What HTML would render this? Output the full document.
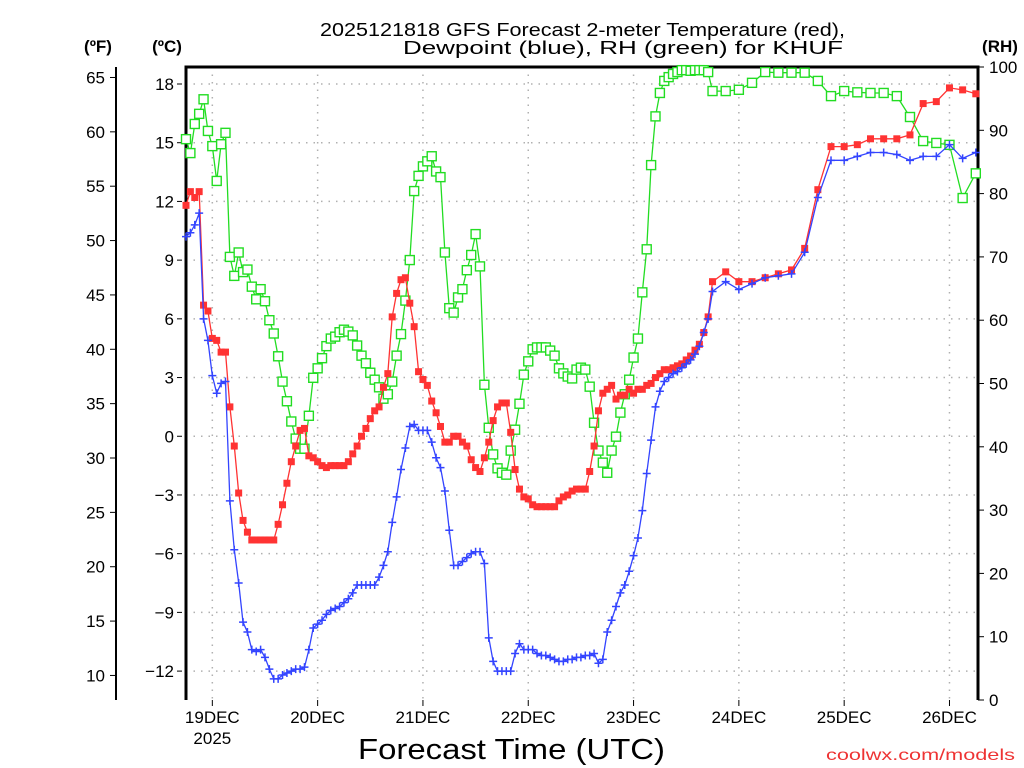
<!DOCTYPE html>
<html><head><meta charset="utf-8"><style>
body{margin:0;background:#fff;}
svg{display:block;font-family:"Liberation Sans",sans-serif;}
</style></head><body>
<svg id="chart" width="1024" height="768" viewBox="0 0 1024 768">
<g id="grid"></g>
<g id="axes"></g>
<g id="series"></g>
<text x="320" y="36" font-size="18" textLength="525" lengthAdjust="spacingAndGlyphs">2025121818 GFS Forecast 2-meter Temperature (red),</text>
<text x="403" y="54" font-size="18" textLength="440" lengthAdjust="spacingAndGlyphs">Dewpoint (blue), RH (green) for KHUF</text>
<text x="98" y="52" text-anchor="middle" font-size="17" font-weight="bold">(ºF)</text>
<text x="167" y="52" text-anchor="middle" font-size="17" font-weight="bold">(ºC)</text>
<text x="1000" y="52" text-anchor="middle" font-size="17" font-weight="bold">(RH)</text>
<text x="358" y="759" font-size="29" textLength="307" lengthAdjust="spacingAndGlyphs">Forecast Time (UTC)</text>
<text x="826" y="760" font-size="16" fill="#ee3333" textLength="189" lengthAdjust="spacingAndGlyphs">coolwx.com/models</text>
</svg>
<script>
const tempHourly=[11.8,12.5,12.2,12.5,6.7,6.4,5.0,4.9,4.3,4.3,1.5,-0.5,-2.9,-4.3,-4.9,-5.3,-5.3,-5.3,-5.3,-5.3,-5.3,-4.5,-3.5,-2.4,-1.3,-0.5,0.3,0.4,-1.0,-1.1,-1.3,-1.5,-1.6,-1.5,-1.5,-1.5,-1.5,-1.3,-0.9,-0.5,0,0.4,0.9,1.3,1.5,2.5,3.2,6.1,7.3,8.0,8.1,6.8,5.6,3.3,2.9,2.6,1.8,1.2,0.5,-0.3,-0.3,0,0,-0.3,-0.5,-1.2,-1.6,-1.8,-1.1,-0.3,0.8,1.5,1.7,1.7,0.2,-1.7,-2.7,-3.1,-3.2,-3.5,-3.6,-3.6,-3.6,-3.6,-3.6,-3.3,-3.1,-3.0,-2.8,-2.7,-2.7,-2.7,-1.8,-0.5,1.3,2.2,2.4,2.6,1.9,2.1,2.1,2.4,2.2,2.4,2.4,2.6,2.7,3.0,3.2,3.4,3.4,3.5,3.6,3.7,3.9,4.1,4.4,4.7,5.3,6.1,7.9];
const tempTail=[8.4,7.9,7.9,8.1,8.3,8.5,9.6,12.6,14.8,14.8,14.9,15.2,15.2,15.2,15.4,17.0,17.1,17.8,17.7,17.5];
const dewHourly=[10.2,10.4,10.8,11.4,6.0,4.9,3.1,2.2,2.7,2.8,-3.3,-5.8,-7.5,-9.5,-10.0,-10.9,-11.0,-10.9,-11.3,-11.9,-12.4,-12.4,-12.2,-12.1,-12.0,-11.9,-11.9,-11.8,-10.9,-9.8,-9.6,-9.4,-9.1,-8.9,-8.8,-8.7,-8.5,-8.3,-8.0,-7.6,-7.6,-7.6,-7.6,-7.6,-7.2,-6.6,-5.9,-4.4,-3.1,-1.7,-0.6,0.5,0.6,0.3,0.3,0.3,-0.3,-1.1,-1.6,-2.8,-4.8,-6.6,-6.6,-6.4,-6.2,-6.0,-5.9,-5.9,-6.5,-10.3,-11.5,-12.0,-12.0,-12.0,-12.0,-11.1,-10.6,-10.9,-10.9,-10.9,-11.1,-11.2,-11.2,-11.3,-11.4,-11.5,-11.5,-11.4,-11.4,-11.3,-11.3,-11.2,-11.2,-11.1,-11.6,-11.4,-10.0,-9.4,-8.7,-8.0,-7.6,-6.9,-6.1,-5.2,-3.8,-1.9,-0.2,1.5,2.3,2.8,3.0,3.2,3.3,3.5,3.7,3.9,4.2,4.6,5.3,6.0,7.4];
const dewTail=[7.9,7.5,7.8,8.1,8.2,8.3,9.4,12.2,14.1,14.1,14.3,14.5,14.5,14.4,14.1,14.3,14.3,14.9,14.2,14.5];
const rhHourly=[88.6,86.4,91,92.6,94.9,89.9,87.5,82,87.8,89.6,70,67,70.7,67.6,68,65.3,63.3,64.9,63,60,57.9,54.3,50.3,47.2,44,41.3,39.7,39.7,44.9,50.9,52.4,54,55.9,57.1,57.4,58.1,58.5,58.2,57.6,56,54.4,53.2,51.7,50.6,49.4,47.6,48.3,50.3,54.4,57.8,63.1,69.5,80.4,82.8,84.3,85.1,85.9,83.5,82.6,70.7,61.9,61.2,63.6,64.9,67.9,70.3,73.6,68.5,49.8,43,38.8,36.6,35.9,35.6,39.4,42.7,46.8,51.4,53.5,55.4,55.7,55.7,55.7,55.2,54.4,52.4,51.6,51.1,50.8,52.2,52.5,52.2,49.5,43.8,39.4,37.5,35.9,39.4,41.6,45.4,48.3,50.6,54.1,57.1,64.4,71.2,84.5,92.2,95.9,97.8,98.4,98.9,99.2,99.5,99.5,99.4,99.5,99.5,99.5,99.2,96.2];
const rhTail=[96.2,96.4,97.5,99.2,99.1,99.1,99.1,97.8,95.4,96.2,96,95.9,95.9,95.4,92.1,88.3,88,87.7,79.3,83.2];
const celsiusTicks=[-12,-9,-6,-3,0,3,6,9,12,15,18];
const fahrenheitTicks=[10,15,20,25,30,35,40,45,50,55,60,65];
const rhTicks=[0,10,20,30,40,50,60,70,80,90,100];
const dayLabels=["19DEC","20DEC","21DEC","22DEC","23DEC","24DEC","25DEC","26DEC"];
const dayHours=[6,30,54,78,102,126,150,174];

const NS="http://www.w3.org/2000/svg";
const L=186,R=978,T=67,B=700;
const xs=h=>L+h*(R-L)/180.5;
const yc=c=>84+(18-c)*19.57;
const yf=f=>yc((f-32)/1.8);
const yr=r=>B-r*(B-T)/100;
function mk(tag,attrs,parent){const e=document.createElementNS(NS,tag);for(const k in attrs)e.setAttribute(k,attrs[k]);parent.appendChild(e);return e;}
function hoursFor(h,t){const out=[];for(let i=0;i<h.length;i++)out.push(i);for(let i=0;i<t.length;i++)out.push(h.length-1+3*(i+1));return out;}
const grid=document.getElementById('grid'),axes=document.getElementById('axes'),series=document.getElementById('series');

celsiusTicks.forEach(c=>{
  const g=mk('line',{x1:L,x2:R,y1:yc(c),y2:yc(c),stroke:'#b0b0b0','stroke-dasharray':'1.5,6','stroke-width':1.5},grid);
  
  
  const t=mk('line',{x1:L-9,x2:L-4,y1:yc(c),y2:yc(c),stroke:'#000'},axes);
  
  
  const lb=mk('text',{x:L-12,y:yc(c)+6,'text-anchor':'end','font-size':17},axes);
  lb.textContent=c<0?'\u2212'+(-c):String(c);
  
  
});
dayHours.forEach((h,i)=>{
  const g=mk('line',{x1:xs(h),x2:xs(h),y1:T,y2:B,stroke:'#b0b0b0','stroke-dasharray':'1.5,6','stroke-width':1.5},grid);
  
  
  const t=mk('line',{x1:xs(h),x2:xs(h),y1:B,y2:B+6,stroke:'#000'},axes);
  
  
  const lb=mk('text',{x:xs(h),y:723,'text-anchor':'middle','font-size':17},axes);
  lb.textContent=dayLabels[i];
  
  
});
const yr25=mk('text',{x:xs(dayHours[0]),y:744,'text-anchor':'middle','font-size':17},axes);
yr25.textContent='2025';



const fl=mk('line',{x1:116,x2:116,y1:T,y2:B,stroke:'#000','stroke-width':2},axes);


fahrenheitTicks.forEach(f=>{
  const t=mk('line',{x1:110,x2:116,y1:yf(f),y2:yf(f),stroke:'#000'},axes);
  
  
  const lb=mk('text',{x:105,y:yf(f)+6,'text-anchor':'end','font-size':17},axes);
  lb.textContent=String(f);
  
  
});
rhTicks.forEach(r=>{
  const t=mk('line',{x1:R,x2:R+6,y1:yr(r),y2:yr(r),stroke:'#000'},axes);
  
  
  const lb=mk('text',{x:989,y:yr(r)+6,'text-anchor':'start','font-size':17},axes);
  lb.textContent=String(r);
  
  
});
const frame=mk('path',{d:`M${L},${B}V${T}H${R}V${B}`,fill:'none',stroke:'#000','stroke-width':3},axes);



function drawSeries(h,t,yfn,color,kind,name){
  const hrs=hoursFor(h,t),vals=h.concat(t);
  const g=mk('g',{},series);
  
  
  const pts=vals.map((v,i)=>xs(hrs[i]).toFixed(1)+','+yfn(v).toFixed(1)).join(' ');
  const pl=mk('polyline',{points:pts,fill:'none',stroke:color,'stroke-width':1.3},g);
  
  
  vals.forEach((v,i)=>{
    const x=xs(hrs[i]),y=yfn(v);let m;
    if(kind==='fill')m=mk('rect',{x:x-3.5,y:y-3.5,width:7,height:7,fill:color},g);
    else if(kind==='open')m=mk('rect',{x:x-4.5,y:y-4.5,width:9,height:9,fill:'#fff',stroke:color,'stroke-width':1.4},g);
    else m=mk('path',{d:`M${x-4},${y}H${x+4}M${x},${y-4}V${y+4}`,stroke:color,'stroke-width':1.5},g);
    
    
  });
}
drawSeries(rhHourly,rhTail,yr,'#22dd22','open','rh-series');
drawSeries(tempHourly,tempTail,yc,'#ff3333','fill','temperature-series');
drawSeries(dewHourly,dewTail,yc,'#3344ff','plus','dewpoint-series');
</script>
</body></html>
